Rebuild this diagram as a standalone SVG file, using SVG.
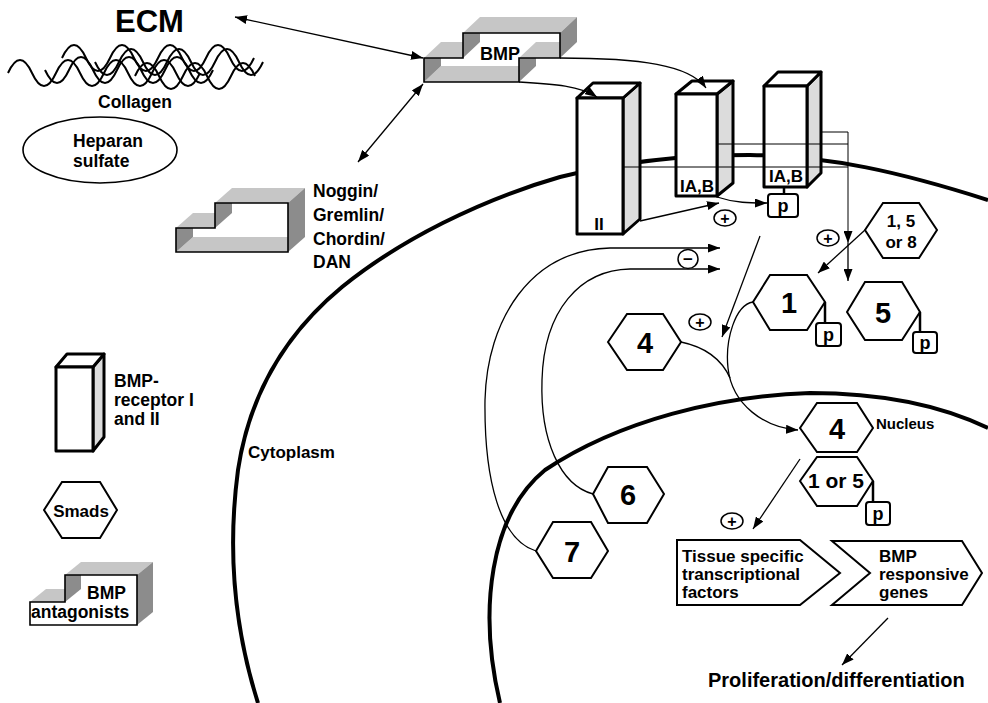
<svg xmlns="http://www.w3.org/2000/svg" width="988" height="703" viewBox="0 0 988 703">
<style>
text{font-family:"Liberation Sans",Arial,sans-serif;font-weight:bold;fill:#000}
.t17{font-size:17.5px}
.t16{font-size:17px}
.num{font-size:29px;text-anchor:middle}
.hex{fill:#fff;stroke:#000;stroke-width:2}
.pbox{fill:#fff;stroke:#000;stroke-width:2}
.pt{font-size:18px;text-anchor:middle}
.lt{fill:#c6c6c6}
.dk{fill:#8c8c8c}
.outl{fill:none;stroke:#000;stroke-width:1.6}
.rf{fill:#fff;stroke:#000;stroke-width:3;stroke-linejoin:round}
.rs{fill:#dcdcdc;stroke:#000;stroke-width:3;stroke-linejoin:round}
.ln{fill:none;stroke:#000;stroke-width:1.3}
.thin{fill:none;stroke:#000;stroke-width:1}
.mem{fill:none;stroke:#000;stroke-width:4}
.wave{fill:none;stroke:#000;stroke-width:2}
.sign{fill:#fff;stroke:#000;stroke-width:1.5}
.st{font-size:17px;text-anchor:middle}
</style>
<defs>
<marker id="ah" markerWidth="12" markerHeight="9" refX="12" refY="4.5" orient="auto-start-reverse" markerUnits="userSpaceOnUse">
<path d="M0,0 L12,4.5 L0,9 z" fill="#000"/>
</marker>
</defs>
<rect width="988" height="703" fill="#fff"/>

<!-- membranes -->
<g id="membranes">
<path class="mem" d="M258 703 C238 640 226 560 238 470 C250 390 290 330 342 287 C400 240 480 200 560 177 C620 162 680 155 750 155 C830 156 900 172 988 200"/>
<path class="mem" d="M988 428 C940 405 880 393 810 393 C720 396 620 420 545 470 C490 515 478 610 500 703"/>
</g>

<!-- ECM / collagen -->
<g id="ecm">
<text x="115" y="32" style="font-size:31px">ECM</text>
<path class="wave" d="M8 73 q12 -26 24 0 t24 0 t24 0 t24 0 t24 0 t24 0 t24 0 t24 0"/>
<path class="wave" d="M45 70 q12 26 24 0 t24 0 t24 0 t24 0 t24 0 t24 0 t24 0"/>
<path class="wave" d="M62 58 q12 -26 24 0 t24 0 t24 0 t24 0 t24 0 t24 0 t24 0 t24 0"/>
<path class="wave" d="M95 62 q12 26 24 0 t24 0 t24 0 t24 0 t24 0 t24 0 t24 0"/>
<path class="wave" d="M135 76 q12 -26 24 0 t24 0 t24 0 t24 0 t24 0"/>
<text x="98" y="108" class="t17">Collagen</text>
</g>
<g id="heparan">
<ellipse cx="100" cy="150" rx="77" ry="33" fill="#fff" stroke="#000" stroke-width="1.6"/>
<text x="73" y="147" class="t17">Heparan</text>
<text x="73" y="167" class="t17">sulfate</text>
</g>

<!-- BMP -->
<g id="bmp">
<polygon class="lt" points="463,33 480,17 577,17 560,33"/>
<polygon class="dk" points="560,33 577,17 577,42 560,58"/>
<polygon class="lt" points="424,58 441,42 480,42 463,58"/>
<polygon class="dk" points="519,58 536,42 536,66 519,82"/>
<polygon fill="#fff" points="424,58 463,58 463,33 560,33 560,58 519,58 519,82 424,82"/>
<polygon class="lt" points="424,82 441,66 519,66 519,82"/>
<polygon class="dk" points="424,58 441,58 441,66 424,82"/>
<polygon class="dk" points="463,33 480,33 480,42 463,58"/>
<polygon class="lt" points="519,58 536,42 560,42 560,58"/>
<polygon class="outl" points="424,58 463,58 463,33 560,33 560,58 519,58 519,82 424,82"/>
<text x="500" y="60" style="font-size:18px;text-anchor:middle">BMP</text>
</g>

<!-- Noggin -->
<g id="antagonist">
<polygon class="lt" points="215,203 232,188 305,188 288,203"/>
<polygon class="dk" points="288,203 305,188 305,237 288,252"/>
<polygon class="lt" points="176,228 193,213 232,213 215,228"/>
<polygon fill="#fff" points="176,228 215,228 215,203 288,203 288,252 176,252"/>
<polygon class="lt" points="176,252 193,237 288,237 288,252"/>
<polygon class="dk" points="176,228 193,228 193,237 176,252"/>
<polygon class="dk" points="215,203 232,203 232,213 215,228"/>
<polygon class="outl" points="176,228 215,228 215,203 288,203 288,252 176,252"/>
<text x="313" y="197" class="t17">Noggin/</text>
<text x="313" y="221" class="t17">Gremlin/</text>
<text x="313" y="245" class="t17">Chordin/</text>
<text x="313" y="268" class="t17">DAN</text>
</g>

<!-- receptors -->
<g id="receptor-II">
<polygon class="rs" points="623,98 640,83 640,219 623,234"/>
<polygon class="rf" points="577,98 593,83 640,83 623,98"/>
<rect class="rf" x="577" y="98" width="46" height="136"/>
<text x="599" y="230" style="font-size:17px;text-anchor:middle">II</text>
</g>
<g id="receptor-IAB-1">
<polygon class="rs" points="717,94 733,81 733,183 717,196"/>
<polygon class="rf" points="676,94 692,81 733,81 717,94"/>
<rect class="rf" x="676" y="94" width="41" height="102"/>
<text x="697" y="192" style="font-size:17px;text-anchor:middle">IA,B</text>
</g>
<g id="receptor-IAB-2">
<polygon class="rs" points="807,86 821,72 821,173 807,187"/>
<polygon class="rf" points="764,86 778,72 821,72 807,86"/>
<rect class="rf" x="764" y="86" width="43" height="101"/>
<text x="786" y="182" style="font-size:17px;text-anchor:middle">IA,B</text>
<line x1="784" y1="187" x2="784" y2="194" stroke="#000" stroke-width="2.5"/>
<rect class="pbox" x="768" y="194" width="30" height="23" rx="3"/>
<text x="783" y="212" class="pt">p</text>
</g>

<!-- smads -->
<g id="smad-158">
<polygon class="hex" points="865,230 883,203 919,203 937,230 919,258 883,258"/>
<text x="901" y="227" style="font-size:17px;text-anchor:middle">1, 5</text>
<text x="901" y="248" style="font-size:17px;text-anchor:middle">or 8</text>
</g>
<g id="smad-1">
<polygon class="hex" points="753,302 770,275 807,275 825,302 807,330 770,330"/>
<text x="789" y="313" class="num">1</text>
<line x1="825" y1="302" x2="825" y2="323" stroke="#000" stroke-width="2.5"/>
<rect class="pbox" x="816" y="323" width="25" height="23" rx="3"/>
<text x="828.5" y="341" class="pt">p</text>
</g>
<g id="smad-5">
<polygon class="hex" points="847,312 865,282 902,282 920,312 902,340 865,340"/>
<text x="883" y="323" class="num">5</text>
<line x1="920" y1="312" x2="920" y2="332" stroke="#000" stroke-width="2.5"/>
<rect class="pbox" x="913" y="332" width="24" height="21" rx="3"/>
<text x="925" y="349" class="pt">p</text>
</g>
<g id="smad-4-cyto">
<polygon class="hex" points="608,342 627,314 663,314 681,342 663,370 627,370"/>
<text x="645" y="353" class="num">4</text>
</g>
<g id="smad-4-nuc">
<polygon class="hex" points="800,428 817,403 857,403 873,428 857,452 817,452"/>
<text x="837" y="439" class="num">4</text>
</g>
<g id="smad-15-nuc">
<polygon class="hex" points="800,481 817,457 857,457 873,481 857,506 817,506"/>
<text x="836" y="488" style="font-size:21px;text-anchor:middle">1 or 5</text>
<line x1="873" y1="481" x2="873" y2="502" stroke="#000" stroke-width="2.5"/>
<rect class="pbox" x="866" y="502" width="24" height="23" rx="3"/>
<text x="878" y="520" class="pt">p</text>
</g>
<g id="smad-6">
<polygon class="hex" points="593,494 608,467 647,467 664,494 647,523 608,523"/>
<text x="628" y="505" class="num">6</text>
</g>
<g id="smad-7">
<polygon class="hex" points="536,551 553,522 591,522 608,551 591,578 553,578"/>
<text x="572" y="562" class="num">7</text>
</g>

<!-- nucleus targets -->
<g id="tissue-factors">
<polygon fill="#fff" stroke="#000" stroke-width="2" points="677,540 800,540 840,573 800,605 677,605"/>
<text x="682" y="562" class="t16">Tissue specific</text>
<text x="682" y="580" class="t16">transcriptional</text>
<text x="682" y="598" class="t16">factors</text>
</g>
<g id="bmp-genes">
<polygon fill="#fff" stroke="#000" stroke-width="2" points="832,541 962,541 982,573 962,605 832,605 870,573"/>
<text x="879" y="562" class="t16">BMP</text>
<text x="879" y="580" class="t16">responsive</text>
<text x="879" y="598" class="t16">genes</text>
</g>
<g id="outcome">
<text x="708" y="687" style="font-size:20px">Proliferation/differentiation</text>
</g>

<!-- labels -->
<g id="labels">
<text x="248" y="458" style="font-size:17px">Cytoplasm</text>
<text x="876" y="429" style="font-size:15px">Nucleus</text>
</g>

<!-- legend -->
<g id="legend-receptor">
<polygon class="rs" points="93,367 104,354 104,437 93,451"/>
<polygon class="rf" points="56,367 67,354 104,354 93,367"/>
<rect class="rf" x="56" y="367" width="37" height="84"/>
<text x="114" y="387" class="t17">BMP-</text>
<text x="114" y="406" class="t17">receptor I</text>
<text x="114" y="425" class="t17">and II</text>
</g>
<g id="legend-smad">
<polygon class="hex" points="44,510 62,482 100,482 117,510 100,538 62,538"/>
<text x="81" y="517" class="st">Smads</text>
</g>
<g id="legend-antagonist">
<polygon class="lt" points="65,575 81,562 153,562 137,575"/>
<polygon class="dk" points="137,575 153,562 153,612 137,625"/>
<polygon class="lt" points="30,602 46,589 81,589 65,602"/>
<polygon fill="#fff" points="30,602 65,602 65,575 137,575 137,625 30,625"/>
<polygon class="dk" points="65,575 81,575 81,589 65,602"/>
<polygon class="outl" points="30,602 65,602 65,575 137,575 137,625 30,625"/>
<text x="126" y="599" class="t17" style="text-anchor:end">BMP</text>
<text x="31" y="618" class="t17">antagonists</text>
</g>

<!-- connectors -->
<g id="connectors">
<line class="ln" x1="423" y1="58" x2="235" y2="17" marker-start="url(#ah)" marker-end="url(#ah)"/>
<line class="ln" x1="423" y1="84" x2="358" y2="162" marker-start="url(#ah)" marker-end="url(#ah)"/>
<path class="ln" d="M519 82 C555 84 580 86 597 97" marker-end="url(#ah)"/>
<path class="ln" d="M560 58 C640 58 690 65 706 88" marker-end="url(#ah)"/>
<path class="thin" d="M623 167 L848 167"/>
<path class="thin" d="M717 144 L848 144"/>
<path class="thin" d="M821 132 L848 132 L848 243" marker-end="url(#ah)"/>
<path class="ln" d="M848 243 L848 281" stroke-width="1.6" marker-end="url(#ah)"/>
<line class="ln" x1="865" y1="230" x2="818" y2="273" marker-end="url(#ah)"/>
<line class="ln" x1="640" y1="221" x2="719" y2="203" marker-end="url(#ah)"/>
<path class="ln" d="M717 197 C735 203 750 203 767 203" marker-end="url(#ah)"/>
<line class="ln" x1="760" y1="236" x2="722" y2="337" marker-end="url(#ah)"/>
<path class="ln" d="M536 551 C500 540 484 480 485 400 C487 320 530 250 610 248 L720 248" marker-end="url(#ah)"/>
<path class="ln" d="M593 494 C560 485 540 440 542 380 C544 310 580 270 630 269 L720 269" marker-end="url(#ah)"/>
<path class="ln" d="M681 342 C705 347 722 360 730 378"/>
<path class="ln" d="M753 302 C735 305 725 340 728 368 C732 405 765 428 798 430" marker-end="url(#ah)"/>
<line class="ln" x1="800" y1="459" x2="753" y2="529" marker-end="url(#ah)"/>
<line class="ln" x1="888" y1="618" x2="842" y2="665" marker-end="url(#ah)"/>
</g>

<!-- signs -->
<g id="signs">
<ellipse class="sign" cx="725" cy="218" rx="11" ry="8"/>
<text x="725" y="224" style="font-size:16px;text-anchor:middle">+</text>
<ellipse class="sign" cx="828" cy="238" rx="11" ry="8"/>
<text x="828" y="244" style="font-size:16px;text-anchor:middle">+</text>
<ellipse class="sign" cx="700" cy="322" rx="11" ry="8"/>
<text x="700" y="328" style="font-size:16px;text-anchor:middle">+</text>
<ellipse class="sign" cx="732" cy="521" rx="11" ry="8"/>
<text x="732" y="527" style="font-size:16px;text-anchor:middle">+</text>
<ellipse class="sign" cx="688" cy="259" rx="10" ry="9.5"/>
<text x="688" y="265" style="font-size:17px;text-anchor:middle">−</text>
</g>
</svg>
